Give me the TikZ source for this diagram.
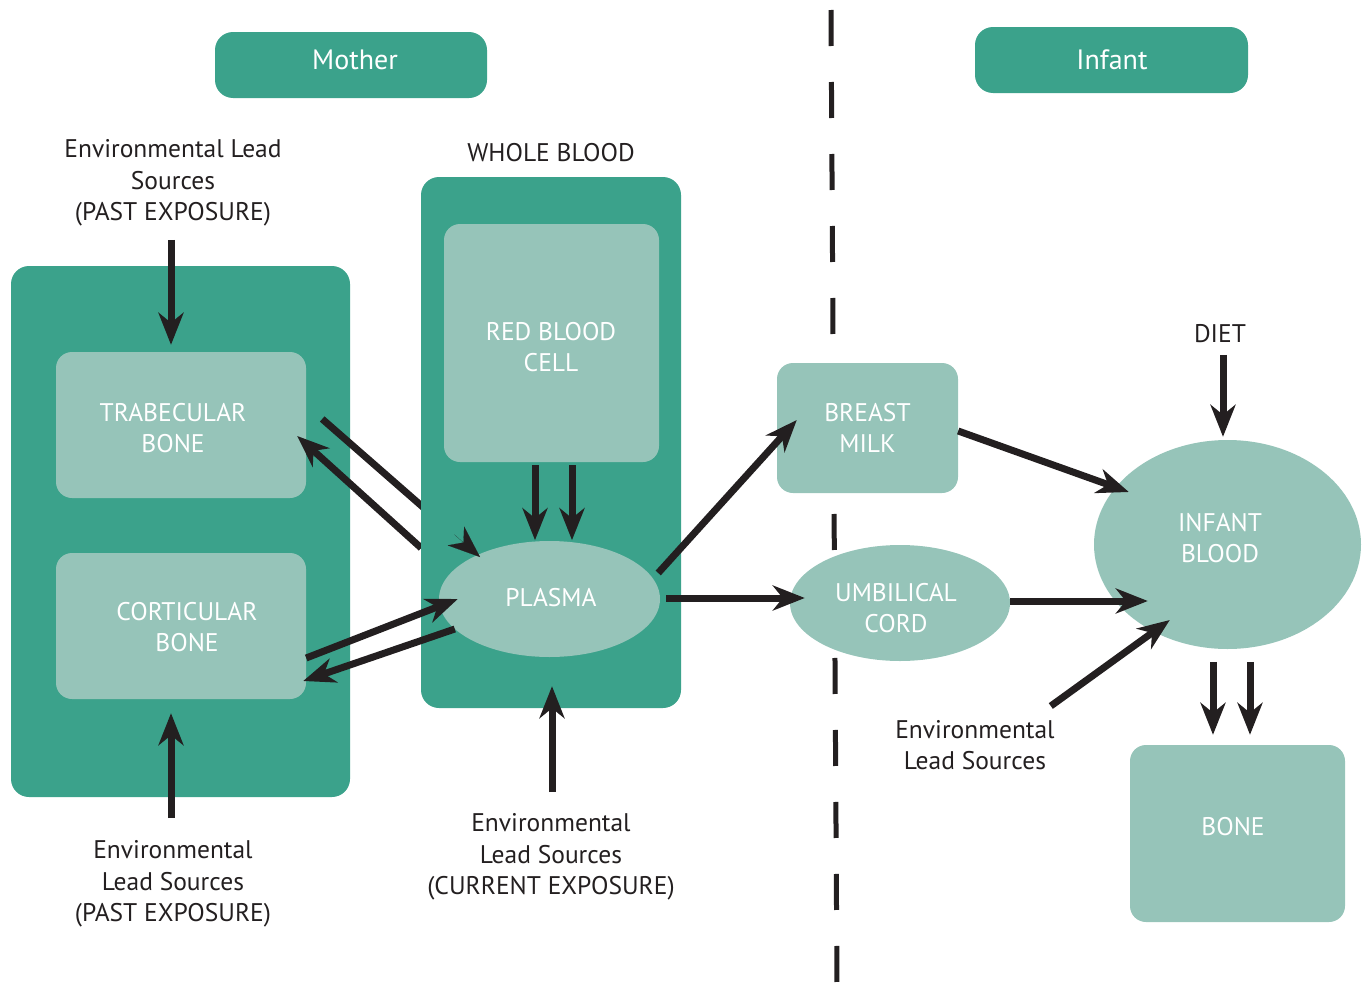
\documentclass[tikz,border=0pt]{standalone}
\usepackage{fontspec}
\setmainfont{PT Sans}
\usetikzlibrary{shapes.geometric,arrows.meta,calc}
\definecolor{darkteal}{RGB}{59,162,139}
\definecolor{lightteal}{RGB}{150,196,185}
\definecolor{ink}{RGB}{35,31,32}
\begin{document}
\begin{tikzpicture}[x=1pt,y=-1pt,
  bigbox/.style={fill=darkteal,draw=none,rounded corners=18pt,inner sep=0pt},
  smallbox/.style={fill=lightteal,draw=none,rounded corners=16pt,inner sep=0pt,text=white,align=center,font=\fontsize{25.5}{31.5}\selectfont},
  oval/.style={ellipse,fill=lightteal,draw=none,inner sep=0pt,text=white,align=center,font=\fontsize{25.5}{31.5}\selectfont},
  lbl/.style={text=ink,align=center,inner sep=0pt,font=\fontsize{25.5}{31.5}\selectfont},
  intext/.style={text=white,align=center,inner sep=0pt,font=\fontsize{25.5}{31.5}\selectfont},
  headtext/.style={text=white,inner sep=0pt,font=\fontsize{28}{32}\selectfont},
  arr/.style={draw=ink,line width=7pt,-{Stealth[length=32pt,width=25pt,inset=10pt]}},
  shaft/.style={draw=ink,line width=7pt},
  divider/.style={draw=ink,line width=5pt,dash pattern=on 36pt off 36pt}
]
\useasboundingbox (0,0) rectangle (1369,988);

% divider
\coordinate (dtop) at (831,10);
\coordinate (dbot) at (837,988);
\draw[divider] (dtop) -- (dbot);

% headers
\node[bigbox,minimum width=272pt,minimum height=66pt] (mother) at (351,65) {};
\node[headtext] (mothertxt) at (355,60) {Mother};
\node[bigbox,minimum width=273pt,minimum height=66pt] (infant) at (1111.5,60) {};
\node[headtext] (infanttxt) at (1112,60) {Infant};

% mother bone compartment
\node[bigbox,minimum width=339pt,minimum height=531pt] (mbox) at (180.5,531.5) {};
\node[smallbox,minimum width=250pt,minimum height=146pt] (trab) at (181,425) {};
\node[intext] (trabtxt) at (173,428) {TRABECULAR\\BONE};
\node[smallbox,minimum width=250pt,minimum height=146pt] (cort) at (181,626) {};
\node[intext] (corttxt) at (187,627) {CORTICULAR\\BONE};

% connectors that pass beneath the whole-blood box
\coordinate (tpstart) at ($(trab.east)+(16,-6)$);
\coordinate (tptip) at (480,557);
\draw[shaft] (tpstart) -- ($(tpstart)!0.65!(tptip)$);
\draw[arr] ($(trab.east)+(115,123)$) -- ($(trab.east)+(-9,11)$);

% whole blood
\node[lbl] (wbl) at (551,153) {WHOLE BLOOD};
\node[bigbox,minimum width=260pt,minimum height=531pt] (wb) at (551,442.5) {};
\node[smallbox,minimum width=215pt,minimum height=238pt] (rbc) at (551.5,343) {};
\node[intext] (rbctxt) at (551,347) {RED BLOOD\\CELL};
\node[oval,minimum width=221pt,minimum height=116pt] (plasma) at (549.5,599) {};
\node[intext] (plasmatxt) at (551,598) {PLASMA};

% lone arrow head of trabecular -> plasma
\draw[ink,line width=0.1pt,-{Stealth[length=32pt,width=25pt,inset=10pt]}] ($(tptip)!34pt!(tpstart)$) -- (tptip);

% infant side
\node[smallbox,minimum width=181pt,minimum height=130pt] (milk) at (867.5,428) {BREAST\\MILK};
\node[oval,minimum width=220pt,minimum height=116pt] (cord) at (900,603) {};
\node[intext] (cordtxt) at (896,608) {UMBILICAL\\CORD};
\node[oval,minimum width=267pt,minimum height=209pt] (iblood) at (1227.5,544.5) {};
\node[intext] (bloodtxt) at (1220,538) {INFANT\\BLOOD};
\node[smallbox,minimum width=215pt,minimum height=177pt] (bone) at (1237.5,833.5) {};
\node[intext] (bonetxt) at (1233,827) {BONE};

% text labels
\node[lbl] (envpast) at (173,183) {Environmental Lead\\Sources\\(PAST EXPOSURE)};
\node[lbl] (envpast2) at (173,884) {Environmental\\Lead Sources\\(PAST EXPOSURE)};
\node[lbl] (envcur) at (551,857) {Environmental\\Lead Sources\\(CURRENT EXPOSURE)};
\node[lbl] (diet) at (1220,334) {DIET};
\node[lbl] (envinf) at (975,745) {Environmental\\Lead Sources};

% arrows
\draw[arr] ($(trab.north)+(-10,-112)$) -- ($(trab.north)+(-10,-7)$);
\draw[arr] ($(cort.east)+(0,32)$) -- ($(plasma.west)+(19,0)$);
\draw[arr] ($(plasma.west)+(16,30)$) -- ($(cort.east)+(-3,55)$);
\draw[arr] ($(cort.south)+(-10,119)$) -- ($(cort.south)+(-10,14)$);
\draw[arr] ($(rbc.south)+(-16.5,3)$) -- ($(rbc.south)+(-16.5,78)$);
\draw[arr] ($(rbc.south)+(20.5,3)$) -- ($(rbc.south)+(20.5,78)$);
\draw[arr] ($(plasma.south)+(2.5,135)$) -- ($(plasma.south)+(2.5,29)$);
\draw[arr] ($(plasma.east)+(-2,-26)$) -- ($(milk.west)+(20,-8)$);
\draw[arr] ($(plasma.east)+(6,-1)$) -- ($(cord.west)+(15,-5)$);
\draw[arr] ($(milk.east)+(0,3)$) -- ($(iblood.west)+(35,-52.5)$);
\draw[arr] ($(cord.east)+(0,-2)$) -- ($(iblood.west)+(54,56.5)$);
\draw[arr] ($(iblood.west)+(-43,161.5)$) -- ($(iblood.west)+(76,75.5)$);
\draw[arr] ($(iblood.north)+(-4.5,-85)$) -- ($(iblood.north)+(-4.5,-3)$);
\draw[arr] ($(bone.north)+(-24.5,-83)$) -- ($(bone.north)+(-24.5,-10)$);
\draw[arr] ($(bone.north)+(12.5,-83)$) -- ($(bone.north)+(12.5,-10)$);
\end{tikzpicture}
\end{document}
